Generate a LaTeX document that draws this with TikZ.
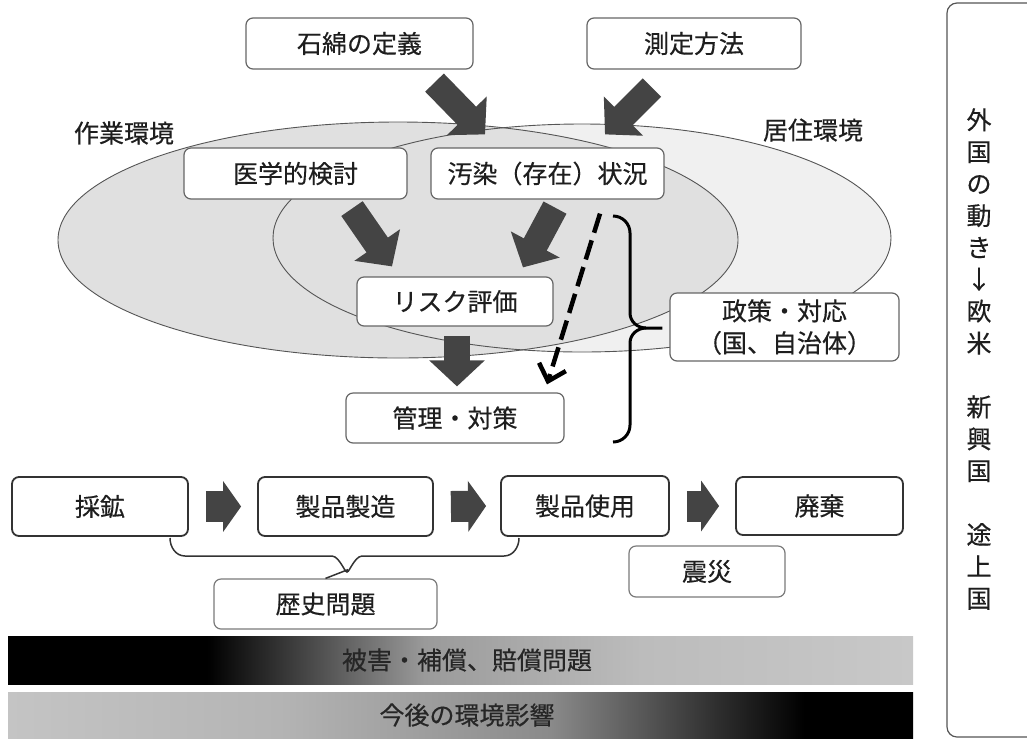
\documentclass[tikz,border=0pt]{standalone}
\usepackage{fontspec}
\setmainfont{Noto Sans CJK JP}[FakeBold=0.4]
\usetikzlibrary{arrows.meta,calc}
\definecolor{textc}{HTML}{1E1E1E}
\definecolor{boxline}{HTML}{666666}
\definecolor{boxdark}{HTML}{333333}
\definecolor{boxlight}{HTML}{7A7A7A}
\definecolor{arrowc}{HTML}{444444}
\definecolor{ellL}{HTML}{E0E0E0}
\definecolor{ellR}{HTML}{F0F0F0}
\definecolor{ellline}{HTML}{555555}
\definecolor{bA1}{HTML}{9A9A9A}
\definecolor{bA2}{HTML}{BCBCBC}
\definecolor{bA3}{HTML}{C8C8C8}
\definecolor{bB1}{HTML}{C4C4C4}
\definecolor{bB2}{HTML}{B4B4B4}
\definecolor{bB3}{HTML}{8A8A8A}
\definecolor{bB4}{HTML}{303030}
\pgfdeclarehorizontalshading{barA}{100bp}{color(0bp)=(black); color(25bp)=(black); color(36bp)=(black); color(48bp)=(bA1); color(60bp)=(bA2); color(75bp)=(bA3); color(100bp)=(bA3)}
\pgfdeclarehorizontalshading{barB}{100bp}{color(0bp)=(bB1); color(25bp)=(bB1); color(40bp)=(bB2); color(55bp)=(bB3); color(64bp)=(bB4); color(69bp)=(black); color(75bp)=(black); color(100bp)=(black)}
\tikzset{
  jp/.style={font=\fontsize{25}{32}\selectfont, text=textc},
  box/.style={jp, draw=boxline, line width=1.2pt, rounded corners=7pt, fill=white, inner sep=0pt, align=center},
  rowbox/.style={box, draw=boxdark, line width=1.8pt},
  sidebox/.style={box, draw=boxlight},
  bigarrow/.style={draw=arrowc, line width=26pt, -{Triangle[length=26pt,width=54pt]}},
  rowarrow/.style={draw=arrowc, line width=31pt, -{Triangle[length=18pt,width=50pt]}},
  dasharrow/.style={draw=black, line width=4.5pt, dash pattern=on 20pt off 8pt, -{Straight Barb[length=15pt,width=28pt,line width=4.5pt]}},
  bracestyle/.style={draw=black, line width=3pt},
  smallbrace/.style={draw=boxdark, line width=1.5pt},
}
\begin{document}
\begin{tikzpicture}[x=1pt,y=-1pt]
\useasboundingbox (0,0) rectangle (1027,740);
% ellipses
\fill[ellR] (582,238) ellipse [x radius=309, y radius=114];
\fill[ellL] (398,240) ellipse [x radius=340, y radius=118];
\draw[ellline, line width=0.9pt] (582,238) ellipse [x radius=309, y radius=114];
\draw[ellline, line width=0.9pt] (398,240) ellipse [x radius=340, y radius=118];
\node[jp] (sagyo) at (124,133) {作業環境};
\node[jp] (kyoju) at (813,130) {居住環境};
% boxes
\node[box, minimum width=227, minimum height=51] (def) at (359.5,43.5) {石綿の定義};
\node[box, minimum width=214, minimum height=51] (meas) at (694,43.5) {測定方法};
\node[box, minimum width=223, minimum height=51] (med) at (295.5,173.5) {医学的検討};
\node[box, minimum width=233, minimum height=51] (pol) at (547.5,173.5) {汚染（存在）状況};
\node[box, minimum width=196, minimum height=49] (risk) at (455,301.5) {リスク評価};
\node[box, minimum width=218, minimum height=50] (mgmt) at (455,418) {管理・対策};
\node[box, minimum width=229, minimum height=68] (seisaku) at (784.5,327) {政策・対応\\（国、自治体）};
% big arrows
\draw[bigarrow] ($(def.south)+(75,13)$) -- ($(pol.north)+(-62.5,-13)$);
\draw[bigarrow] ($(meas.south)+(-42,18)$) -- ($(pol.north)+(57.5,-13)$);
\draw[bigarrow] ($(med.south)+(56.5,9)$) -- ($(risk.north)+(-63,-10)$);
\draw[bigarrow] ($(pol.south)+(7.5,8)$) -- ($(risk.north)+(68,-9)$);
\draw[bigarrow] ($(risk.south)+(2,9)$) -- ($(mgmt.north)+(2,-6)$);
\draw[dasharrow] ($(pol.south)+(52.5,14)$) -- ($(mgmt.north)+(92,-8)$);
% brace to policy
\coordinate (btip) at ($(seisaku.west)+(-7,1)$);
\draw[bracestyle] (613,216) to[out=0,in=90] (630,233) -- (630,313) to[out=-90,in=180] (646,328) -- (btip);
\draw[bracestyle] (646,328) to[out=180,in=90] (630,343) -- (630,425) to[out=-90,in=0] (613,442);
% bottom row
\node[rowbox, minimum width=176, minimum height=59] (saiko) at (100,506.5) {採鉱};
\node[rowbox, minimum width=175, minimum height=59] (seizo) at (345.5,506.5) {製品製造};
\node[rowbox, minimum width=168, minimum height=60] (shiyo) at (585,506) {製品使用};
\node[rowbox, minimum width=167, minimum height=58] (haiki) at (819.5,506) {廃棄};
\draw[rowarrow] ($(saiko.east)+(17,0)$) -- ($(seizo.west)+(-16,0)$);
\draw[rowarrow] ($(seizo.east)+(17,0)$) -- ($(shiyo.west)+(-14,0)$);
\draw[rowarrow] ($(shiyo.east)+(17,0)$) -- ($(haiki.west)+(-16,0)$);
\node[sidebox, minimum width=223, minimum height=50] (rekishi) at (325.5,604) {歴史問題};
\node[sidebox, minimum width=156, minimum height=51] (shinsai) at (707,571.5) {震災};
\draw[smallbrace] (170,538) to[out=-90,in=180] (185,556) -- (332,556) to[out=0,in=-90] (347,570) -- (rekishi.north);
\draw[smallbrace] (347,570) to[out=-90,in=180] (362,556) -- (504,556) to[out=0,in=-90] (519,538);
% bars
\shade[shading=barA] (8,636) rectangle (913,684);
\node[jp, text=black!85] (bar1) at (467,660) {被害・補償、賠償問題};
\shade[shading=barB] (8,692) rectangle (913,738);
\node[jp, text=black!85] (bar2) at (467,715) {今後の環境影響};
% right panel
\begin{scope}
\clip (0,0) rectangle (1027,740);
\draw[ellline, line width=1.2pt, rounded corners=10pt] (947,3) rectangle (1045,737);
\end{scope}
\node[jp, font=\fontsize{25}{31.9}\selectfont, align=center, inner sep=0pt] (side) at (979,359) {外\\国\\の\\動\\き\\↓\\欧\\米\\\mbox{}\\新\\興\\国\\\mbox{}\\途\\上\\国};
\end{tikzpicture}
\end{document}
